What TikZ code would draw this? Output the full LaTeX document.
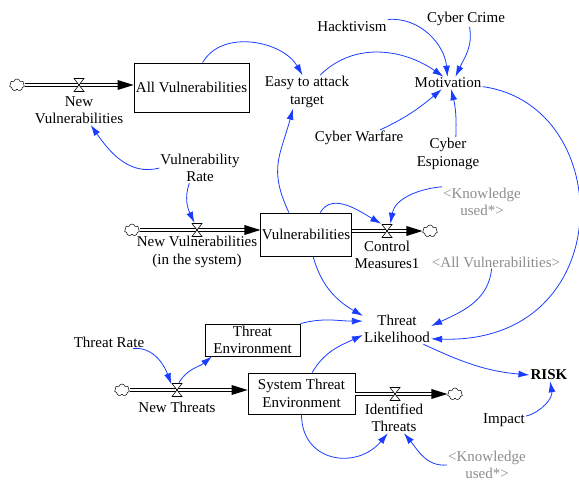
\documentclass[tikz,border=0pt]{standalone}
\usepackage{fontspec}
\setmainfont{Liberation Serif}
\usetikzlibrary{arrows.meta,shapes.symbols}
\definecolor{linkblue}{RGB}{25,60,255}
\definecolor{ghostgray}{RGB}{140,140,140}
\tikzset{
  lbl/.style={font=\fontsize{15}{17.5}\selectfont, inner sep=1pt, align=center},
  ghost/.style={lbl, text=ghostgray},
  stock/.style={lbl, draw, line width=0.8pt, fill=white},
  valve/.style={inner sep=0pt, minimum width=11pt, minimum height=14pt,
    path picture={\draw[fill=white, line width=0.6pt]
      ([xshift=-5pt,yshift=6.5pt]path picture bounding box.center) -- ++(10pt,0pt)
      -- ++(-10pt,-13pt) -- ++(10pt,0pt) -- cycle;}},
  sink/.style={cloud, cloud puffs=7, draw, line width=0.5pt, fill=white,
    minimum width=15pt, minimum height=12pt, inner sep=0pt, aspect=1.3},
  pipe/.style={line width=0.6pt, double=white, double distance=2.6pt, shorten >=14pt},
  link/.style={draw=linkblue, line width=0.8pt, -{Latex[length=11pt,width=7pt]}},
}
\begin{document}
\begin{tikzpicture}[x=1pt,y=-1pt]
\useasboundingbox (0,0) rectangle (579,481);

% ---- motivation cluster
\node[lbl] (hack) at (352,26) {Hacktivism};
\node[lbl] (crime) at (466,19) {Cyber Crime};
\node[lbl] (mot) at (448,83) {Motivation};
\node[lbl] (easy) at (307,92) {Easy to attack\\target};
\node[lbl] (warf) at (359,138) {Cyber Warfare};
\node[lbl] (esp) at (448,154) {Cyber\\Espionage};

% ---- stocks
\node[stock, minimum width=115pt, minimum height=49pt] (allv) at (191.5,87.5) {All Vulnerabilities};
\node[stock, minimum width=90pt, minimum height=43pt] (vuln) at (306,234.5) {Vulnerabilities};
\node[stock, minimum width=95pt, minimum height=32pt] (tenv) at (252.5,340) {Threat\\Environment};
\node[stock, minimum width=107pt, minimum height=41pt] (ste) at (301.5,393.5) {System Threat\\Environment};

% ---- clouds
\node[sink] (c1) at (17,85) {};
\node[sink] (c2) at (132,230) {};
\node[sink] (c3) at (430,231) {};
\node[sink] (c4) at (122,390) {};
\node[sink] (c5) at (455,394) {};

% ---- flow pipes
\draw[pipe] (c1.east) -- (c1.east -| allv.west);
\fill (c1.east -| allv.west) -- ++(-16,-5) -- ++(0,10) -- cycle;
\draw[pipe] (c2.east) -- (c2.east -| vuln.west);
\fill (c2.east -| vuln.west) -- ++(-16,-5) -- ++(0,10) -- cycle;
\draw[pipe] (c3.west -| vuln.east) -- (c3.west);
\fill (c3.west) -- ++(-16,-5) -- ++(0,10) -- cycle;
\draw[pipe] (c4.east) -- (c4.east -| ste.west);
\fill (c4.east -| ste.west) -- ++(-16,-5) -- ++(0,10) -- cycle;
\draw[pipe] (c5.west -| ste.east) -- (c5.west);
\fill (c5.west) -- ++(-16,-5) -- ++(0,10) -- cycle;

% ---- valves and flow names
\node[valve] (v1) at (79,85) {};
\node[valve] (v2) at (197,230) {};
\node[valve] (v3) at (387,231) {};
\node[valve] (v4) at (177,390) {};
\node[valve] (v5) at (395,394) {};
\node[lbl] (newv) at (79,110) {New\\Vulnerabilities};
\node[lbl] (nvs) at (197,252) {New Vulnerabilities\\(in the system)};
\node[lbl] (cm) at (387,255) {Control\\Measures1};
\node[lbl] (nt) at (177,407) {New Threats};
\node[lbl] (idt) at (394,418) {Identified\\Threats};

% ---- auxiliaries
\node[lbl] (vrate) at (200,168) {Vulnerability\\Rate};
\node[ghost] (know1) at (482,202) {<Knowledge\\used*>};
\node[ghost] (allvg) at (496,262) {<All Vulnerabilities>};
\node[lbl] (TL) at (397,329) {Threat\\Likelihood};
\node[lbl] (risk) at (549,375) {\textbf{RISK}};
\node[lbl] (impact) at (504,420) {Impact};
\node[lbl] (trate) at (109,342) {Threat Rate};
\node[ghost] (know2) at (487,465) {<Knowledge\\used*>};

% ---- causal links
\draw[link] (allv.66) to[out=60,in=120] (easy.105);
\draw[link] (easy.52) to[out=45,in=145] (mot.126);
\draw[link] (hack.north east) to[out=5,in=95] (mot.95);
\draw[link] (crime.294) to[out=-80,in=65] (mot.40);
\draw[link] (warf.21) to[out=25,in=220] (mot.225);
\draw[link] (esp.65) to[bend right=8] (mot.297);
\draw[link] (mot.354) .. controls (618,105) and (620,345) .. (TL.344);
\draw[link] (vrate.west) to[out=195,in=-55] (newv.308);
\draw[link] (vrate.235) to[out=-110,in=115] (v2.110);
\draw[link] (vuln.128) to[out=115,in=255,looseness=1.2] (easy.230);
\draw[link] (vuln.57) to[out=60,in=150] (v3.north west);
\draw[link] (know1.north west) to[out=185,in=80] (v3.65);
\draw[link] (vuln.288) to[out=-75,in=150] (TL.159);
\draw[link] (allvg.236) to[out=-95,in=25] (TL.5);
\draw[link] (tenv.north east) to[out=15,in=180] (TL.167);
\draw[link] (ste.63) to[out=60,in=205] (TL.190);
\draw[link] (TL.330) to[out=-25,in=175] (risk.west);
\draw[link] (impact.10) to[out=15,in=-80] (risk.-80);
\draw[link] (ste.south) to[out=-90,in=230,looseness=1.4] (idt.248);
\draw[link] (know2.west) to[out=185,in=-50] (idt.303);
\draw[link] (trate.345) to[out=5,in=110] (v4.135);
\draw[link] (v4.75) to[out=60,in=220] (tenv.202);
\end{tikzpicture}
\end{document}
